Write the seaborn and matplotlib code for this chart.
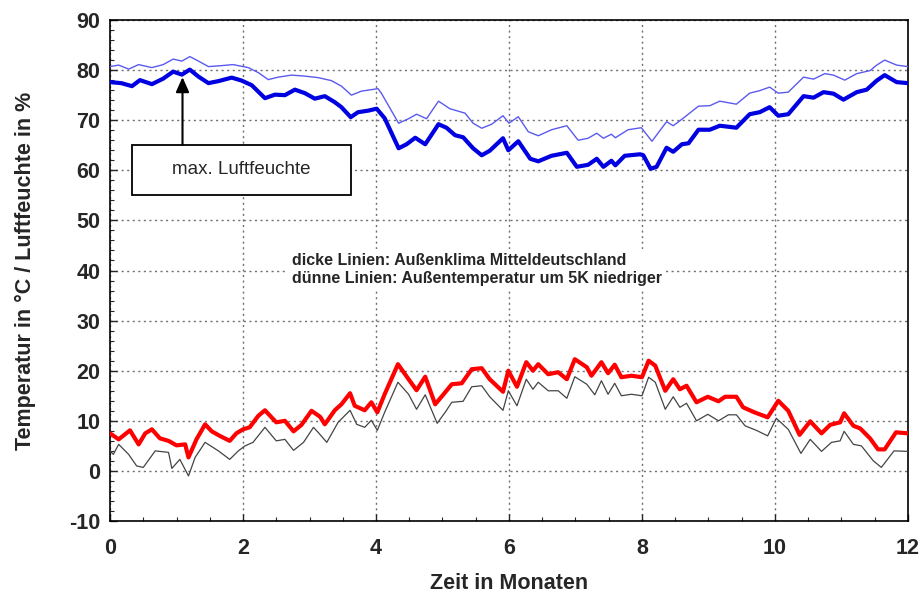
import numpy as np
import pandas as pd
import matplotlib
matplotlib.use("Agg")
import matplotlib.pyplot as plt
from matplotlib.patches import Rectangle
from matplotlib.ticker import MultipleLocator
import seaborn as sns

# ---------------- data ----------------
hum_thick_month = [0, 0.17, 0.33, 0.45, 0.63, 0.8, 0.95, 1.08, 1.2, 1.33, 1.48, 1.63, 1.83, 1.98,
                   2.13, 2.33, 2.48, 2.63, 2.78, 2.93, 3.08, 3.23, 3.38, 3.48, 3.62, 3.73, 3.88,
                   4.01, 4.13, 4.34, 4.46, 4.59, 4.74, 4.94, 5.06, 5.19, 5.31, 5.46, 5.59, 5.71,
                   5.91, 5.99, 6.14, 6.32, 6.44, 6.64, 6.87, 7.02, 7.19, 7.32, 7.42, 7.54, 7.6,
                   7.74, 7.97, 8.02, 8.13, 8.22, 8.37, 8.47, 8.6, 8.7, 8.85, 9.02, 9.17, 9.42,
                   9.62, 9.77, 9.92, 10.05, 10.2, 10.43, 10.58, 10.73, 10.88, 11.03, 11.23,
                   11.38, 11.53, 11.65, 11.83, 12.0]
hum_thick_value = [77.6, 77.4, 76.8, 78.0, 77.2, 78.3, 79.7, 79.1, 80.1, 78.7, 77.4, 77.8, 78.5, 77.9,
                   77.0, 74.4, 75.1, 75.0, 76.1, 75.4, 74.3, 74.8, 73.6, 72.6, 70.6, 71.6, 71.9,
                   72.3, 70.4, 64.4, 65.2, 66.5, 65.2, 69.2, 68.5, 67.0, 66.6, 64.4, 63.0, 63.9,
                   66.4, 64.0, 65.8, 62.3, 61.8, 62.9, 63.5, 60.7, 61.1, 62.3, 60.7, 61.9, 61.0,
                   62.9, 63.2, 63.0, 60.3, 60.7, 64.5, 63.7, 65.2, 65.4, 68.1, 68.1, 68.9, 68.5,
                   71.2, 71.6, 72.6, 70.9, 71.2, 74.8, 74.5, 75.6, 75.3, 74.1, 75.6,
                   76.1, 77.9, 79.0, 77.6, 77.4]

hum_thin_month = [0, 0.13, 0.28, 0.43, 0.63, 0.8, 0.95, 1.08, 1.2, 1.33, 1.48, 1.68, 1.85, 2.08,
                  2.23, 2.38, 2.53, 2.73, 2.93, 3.13, 3.33, 3.48, 3.63, 3.78, 3.93, 4.03, 4.08,
                  4.34, 4.49, 4.61, 4.76, 4.94, 5.11, 5.34, 5.46, 5.59, 5.74, 5.91, 6.0, 6.14,
                  6.29, 6.44, 6.64, 6.87, 7.04, 7.19, 7.32, 7.42, 7.54, 7.6, 7.79, 7.99, 8.15,
                  8.37, 8.47, 8.62, 8.85, 9.02, 9.17, 9.42, 9.62, 9.77, 9.92, 10.05, 10.2,
                  10.43, 10.58, 10.75, 10.88, 11.05, 11.23, 11.43, 11.53, 11.65, 11.83, 12.0]
hum_thin_value = [80.7, 81.0, 80.2, 81.1, 80.5, 81.1, 82.2, 81.8, 82.7, 81.8, 80.7, 80.9, 81.1, 80.5,
                  79.5, 78.1, 78.6, 79.0, 78.8, 78.5, 77.9, 76.8, 75.0, 75.8, 76.1, 76.3, 75.4,
                  69.4, 70.3, 71.2, 70.3, 73.8, 72.3, 71.4, 69.4, 68.4, 69.2, 70.9, 69.4, 70.7,
                  67.7, 66.9, 68.1, 68.9, 66.0, 66.4, 67.4, 66.4, 67.2, 66.5, 68.1, 68.5, 65.8,
                  69.7, 68.9, 70.4, 72.8, 72.9, 73.8, 73.2, 75.4, 75.9, 76.6, 75.4, 75.6,
                  78.6, 78.2, 79.3, 79.0, 78.0, 79.3, 79.9, 81.0, 82.0, 81.0, 80.7]

temp_thick_month = [0, 0.13, 0.3, 0.43, 0.53, 0.63, 0.75, 0.88, 1.0, 1.13, 1.18, 1.3, 1.43, 1.53,
                    1.65, 1.8, 1.9, 2.0, 2.1, 2.23, 2.33, 2.5, 2.63, 2.76, 2.88, 3.03, 3.16, 3.23,
                    3.38, 3.48, 3.61, 3.68, 3.83, 3.93, 4.02, 4.13, 4.33, 4.49, 4.61, 4.74, 4.89,
                    5.01, 5.14, 5.29, 5.44, 5.59, 5.71, 5.91, 5.99, 6.12, 6.26, 6.36, 6.44, 6.59,
                    6.74, 6.87, 6.99, 7.17, 7.24, 7.39, 7.49, 7.59, 7.69, 7.84, 8.0, 8.1, 8.2,
                    8.35, 8.47, 8.57, 8.67, 8.82, 8.99, 9.15, 9.25, 9.42, 9.52, 9.69, 9.89, 10.05,
                    10.2, 10.37, 10.53, 10.7, 10.83, 10.98, 11.04, 11.18, 11.28, 11.43, 11.55,
                    11.65, 11.82, 12.0]
temp_thick_value = [7.5, 6.3, 8.1, 5.3, 7.5, 8.3, 6.5, 6.0, 5.1, 5.3, 2.7, 6.3, 9.3, 7.9,
                    7.0, 6.0, 7.5, 8.3, 8.7, 11.0, 12.1, 9.7, 10.0, 7.9, 9.2, 12.0, 10.8, 9.3,
                    12.1, 13.3, 15.5, 13.0, 12.1, 13.7, 11.7, 15.3, 21.3, 18.3, 16.1, 18.8, 13.3,
                    15.2, 17.3, 17.5, 20.3, 20.5, 18.3, 15.8, 20.0, 16.8, 21.7, 20.0, 21.3, 19.3,
                    19.7, 18.3, 22.3, 20.7, 19.0, 21.7, 19.5, 21.2, 18.7, 19.0, 18.7, 22.0, 21.0,
                    16.0, 18.3, 16.3, 17.0, 13.7, 14.8, 13.9, 14.8, 14.8, 12.7, 11.7, 10.7, 14.0,
                    12.0, 7.2, 9.9, 7.5, 9.2, 9.7, 11.5, 9.0, 8.5, 6.5, 4.3,
                    4.3, 7.7, 7.5]

temp_thin_month = [0, 0.05, 0.13, 0.28, 0.4, 0.5, 0.68, 0.88, 0.93, 1.05, 1.18, 1.28, 1.43, 1.63,
                   1.8, 1.93, 2.03, 2.15, 2.33, 2.5, 2.63, 2.76, 2.91, 3.06, 3.13, 3.26, 3.43,
                   3.61, 3.71, 3.83, 3.93, 4.02, 4.13, 4.33, 4.49, 4.61, 4.74, 4.92, 5.04, 5.14,
                   5.31, 5.44, 5.59, 5.71, 5.91, 5.99, 6.12, 6.26, 6.36, 6.44, 6.59, 6.74, 6.87,
                   6.99, 7.17, 7.29, 7.39, 7.49, 7.59, 7.69, 7.84, 8.0, 8.1, 8.2, 8.35, 8.47,
                   8.57, 8.67, 8.82, 8.99, 9.15, 9.3, 9.42, 9.55, 9.72, 9.89, 10.02, 10.2, 10.39,
                   10.53, 10.7, 10.85, 10.98, 11.04, 11.18, 11.3, 11.48, 11.6, 11.79, 12.0]
temp_thin_value = [4.0, 3.3, 5.3, 3.3, 1.0, 0.7, 4.0, 3.7, 0.5, 2.3, -1.0, 2.7, 5.7, 4.0,
                   2.3, 4.0, 5.0, 5.7, 8.7, 6.0, 6.3, 4.1, 5.7, 8.7, 7.7, 5.7, 9.7,
                   12.1, 9.3, 8.7, 10.1, 8.1, 11.7, 17.7, 15.3, 12.3, 15.2, 9.5, 11.7, 13.7,
                   13.9, 16.8, 17.0, 14.8, 12.1, 16.0, 13.0, 18.3, 16.3, 17.7, 16.0, 16.0, 14.5,
                   18.8, 17.3, 15.2, 18.0, 15.3, 17.5, 15.0, 15.3, 15.0, 18.7, 17.7, 12.3, 14.8,
                   12.7, 13.5, 10.0, 11.3, 10.0, 11.2, 11.2, 9.0, 8.1, 7.0, 10.5, 8.3, 3.5,
                   6.3, 3.9, 5.7, 6.0, 7.9, 5.3, 5.0, 2.0, 0.7, 4.0, 3.9]

x_ticks = [0, 2, 4, 6, 8, 10, 12]
y_ticks = [-10, 0, 10, 20, 30, 40, 50, 60, 70, 80, 90]
x_label = "Zeit in Monaten"
y_label = "Temperatur in °C / Luftfeuchte in %"
note_text = "dicke Linien: Außenklima Mitteldeutschland\ndünne Linien: Außentemperatur um 5K niedriger"
annot_text = "max. Luftfeuchte"

# ---------------- plotting ----------------
sns.set_style("white")
plt.rcParams["font.family"] = ["Liberation Sans", "DejaVu Sans"]
plt.rcParams["axes.unicode_minus"] = False

fig = plt.figure(figsize=(9.23, 5.92), dpi=100)
ax = fig.add_axes([0.1192, 0.1199, 0.8645, 0.8463])

series = [
    (hum_thin_month, hum_thin_value, "#5a5af0", 1.0),
    (hum_thick_month, hum_thick_value, "#0000e0", 3.0),
    (temp_thin_month, temp_thin_value, "#444444", 0.9),
    (temp_thick_month, temp_thick_value, "#ff0000", 3.0),
]
for mx, vy, col, lw in series:
    assert len(mx) == len(vy)
    df = pd.DataFrame({"Monat": mx, "Wert": vy})
    sns.lineplot(data=df, x="Monat", y="Wert", ax=ax, color=col, linewidth=lw,
                 sort=False, estimator=None, zorder=3)

ax.set_xlim(0, 12)
ax.set_ylim(-10, 90)
ax.set_xticks(x_ticks)
ax.set_yticks(y_ticks)
ax.yaxis.set_minor_locator(MultipleLocator(2))
ax.xaxis.set_minor_locator(MultipleLocator(0.5))
ax.grid(True, which="major", linestyle=(0, (1.5, 2.5)), color="#707070", linewidth=1.0, zorder=0)
ax.tick_params(axis="both", which="major", direction="in", length=5, width=1,
               labelsize=15.5)
ax.tick_params(axis="y", which="major", pad=7)
ax.tick_params(axis="x", which="major", pad=12)
ax.tick_params(axis="both", which="minor", direction="in", length=3, width=0.8)
ax.tick_params(axis="y", which="both", left=True, right=False)
ax.tick_params(axis="x", which="both", bottom=True, top=False)
for lab in ax.get_xticklabels() + ax.get_yticklabels():
    lab.set_fontweight("bold")
for sp in ax.spines.values():
    sp.set_visible(True)
    sp.set_color("black")
    sp.set_linewidth(1.2)

ax.set_xlabel(x_label, fontsize=15.5, fontweight="bold", labelpad=10)
ax.set_ylabel(y_label, fontsize=15.5, fontweight="bold", labelpad=24)

# note text with white background
ax.text(2.73, 40.2, note_text, fontsize=11.5, fontweight="bold", ha="left", va="center",
        linespacing=1.2, zorder=4,
        bbox=dict(facecolor="white", edgecolor="none", pad=3))

# annotation box + arrow
ax.add_patch(Rectangle((0.33, 55.0), 3.30, 10.1, facecolor="white", edgecolor="black",
                       linewidth=1.3, zorder=5))
ax.text(1.98, 60.1, annot_text, fontsize=13.5, ha="center", va="center", zorder=6)
ax.annotate("", xy=(1.09, 78.6), xytext=(1.09, 65.1),
            arrowprops=dict(arrowstyle="-|>,head_length=0.9,head_width=0.4",
                            color="black", linewidth=1.5, shrinkA=0, shrinkB=0),
            zorder=6)

fig.savefig("out.png", dpi=100)
